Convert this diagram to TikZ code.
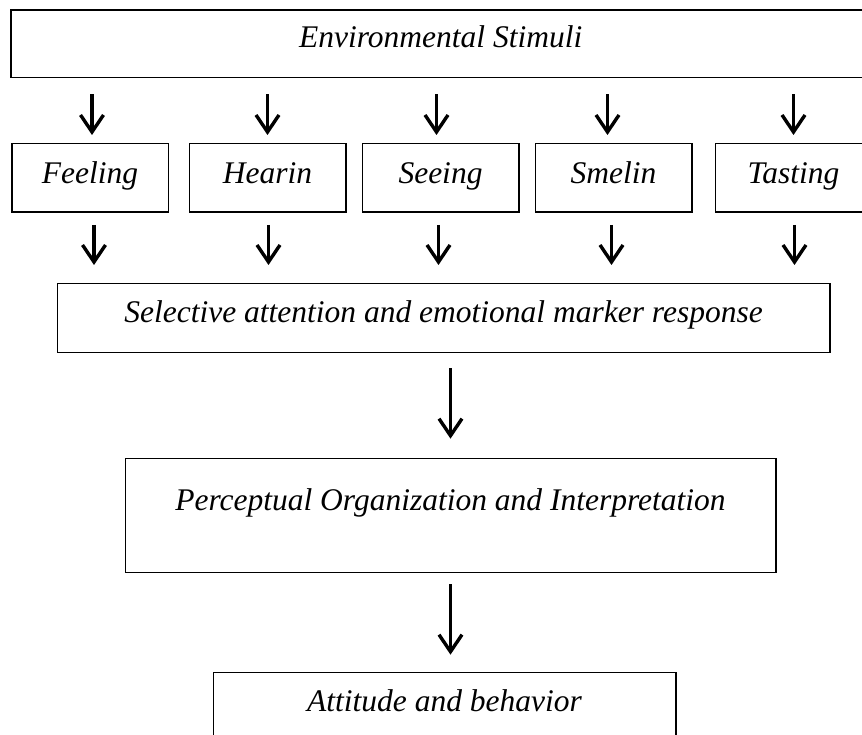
\documentclass[tikz,border=0pt]{standalone}
\usepackage{fontspec}
\setmainfont{Liberation Serif}
\usetikzlibrary{arrows.meta}

\begin{document}
\begin{tikzpicture}[x=1pt, y=-1pt,
  box/.style={draw, line width=1.5pt, inner sep=0pt, anchor=north west,
    font=\itshape\fontsize{31.5}{36}\selectfont},
  sense/.style={box, minimum width=156.5pt, text height=39.7pt, text depth=28.8pt},
  flow/.style={line width=3.4pt, -{Straight Barb[length=17pt, width=23pt]}}
]
\useasboundingbox (0,0) rectangle (862,735);

% stimulus box along the top (runs off the right edge)
\node[box, minimum width=860pt, text height=37.5pt, text depth=30pt] (env) at (10,9.5) {Environmental Stimuli};

% the five senses
\node[sense] (feel)  at (11,143)    {Feeling};
\node[sense] (hear)  at (188.5,143) {Hearin};
\node[sense] (see)   at (361.5,143) {Seeing};
\node[sense] (smel)  at (534.5,143) {Smelin};
\node[sense] (taste) at (714.5,143) {Tasting};

% processing stages
\node[box, minimum width=772.4pt, text height=39pt, text depth=29.7pt] (sel) at (56.6,283)
  {Selective attention and emotional marker response};
\node[box, minimum width=650.5pt, text height=52.3pt, text depth=61.7pt] (perc) at (124.5,457.7)
  {Perceptual Organization and Interpretation};
\node[box, minimum width=462.5pt, text height=38.8pt, text depth=49.5pt] (att) at (212.5,671.7)
  {Attitude and behavior};

% stimuli -> senses
\foreach \n/\dx in {feel/2, hear/0, see/-4, smel/-6, taste/0}
  \draw[flow, shorten <=16pt, shorten >=8pt]
    ([xshift=\dx pt]\n.north |- env.south) -- ([xshift=\dx pt]\n.north);

% senses -> selective attention
\foreach \n/\dx in {feel/4, hear/1, see/-2, smel/-2, taste/1}
  \draw[flow, shorten <=12pt, shorten >=18pt]
    ([xshift=\dx pt]\n.south) -- ([xshift=\dx pt]\n.south |- sel.north);

% down the main chain
\draw[flow, shorten <=15pt, shorten >=19pt] (sel.south -| perc.north) -- (perc.north);
\draw[flow, shorten <=11pt, shorten >=17pt] (perc.south) -- (perc.south |- att.north);
\end{tikzpicture}
\end{document}
